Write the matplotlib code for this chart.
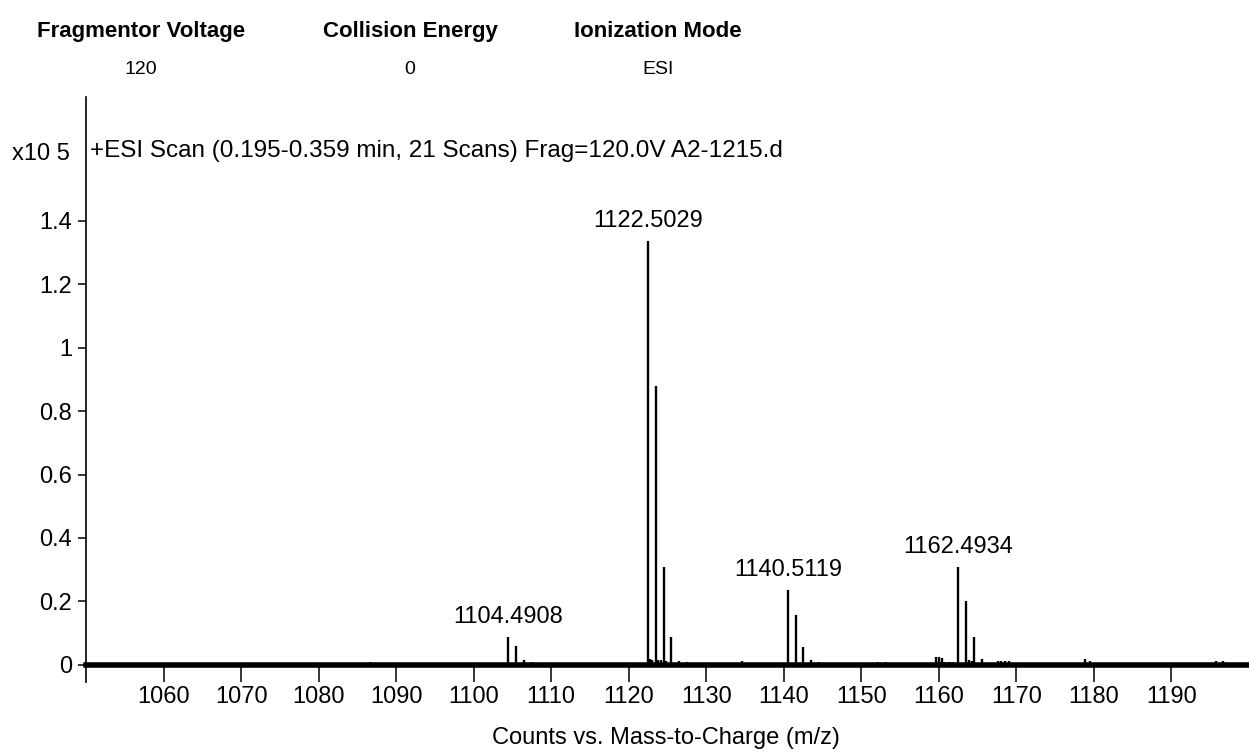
import numpy as np
import matplotlib.pyplot as plt

# spectrum sticks, intensity in units of 10^5 counts
mz = [1086.6,
      1104.4908, 1105.49, 1106.49, 1107.49,
      1122.5029, 1122.75, 1123.05, 1123.50, 1123.80, 1124.10, 1124.50, 1124.80,
      1125.50, 1126.50, 1127.50,
      1134.55,
      1140.5119, 1141.51, 1142.51, 1143.52, 1144.50,
      1152.1, 1153.2,
      1159.67, 1160.0, 1160.35, 1160.7, 1161.2, 1161.5, 1161.8,
      1162.4934, 1163.49, 1163.9, 1164.3, 1164.50, 1165.5,
      1167.6, 1168.0, 1168.5, 1169.0,
      1178.8, 1179.5,
      1195.8, 1196.7]
counts = [0.008,
          0.087, 0.058, 0.016, 0.010,
          1.335, 0.018, 0.015, 0.878, 0.015, 0.016, 0.310, 0.012,
          0.088, 0.012, 0.010,
          0.012,
          0.237, 0.158, 0.055, 0.016, 0.010,
          0.010, 0.010,
          0.026, 0.026, 0.022, 0.010, 0.010, 0.010, 0.008,
          0.310, 0.200, 0.016, 0.012, 0.087, 0.018,
          0.012, 0.012, 0.012, 0.012,
          0.018, 0.012,
          0.012, 0.012]
labelled = [1104.4908, 1122.5029, 1140.5119, 1162.4934]

xticks = list(range(1060, 1200, 10))
yticks = [0, 0.2, 0.4, 0.6, 0.8, 1.0, 1.2, 1.4]
ylabels = ['0', '0.2', '0.4', '0.6', '0.8', '1', '1.2', '1.4']

headers = ['Fragmentor Voltage', 'Collision Energy', 'Ionization Mode']
header_vals = ['120', '0', 'ESI']
title = '+ESI Scan (0.195-0.359 min, 21 Scans) Frag=120.0V A2-1215.d'

plt.rcParams['font.family'] = ['Liberation Sans', 'DejaVu Sans']
fs = 17

W, H = 1249, 754
fig = plt.figure(figsize=(W / 100, H / 100), dpi=100)
ax = fig.add_axes([86 / W, 1 - 682 / H, 1 - 86 / W, (682 - 97) / H])

ax.vlines(mz, 0, counts, color='black', lw=1.7)
for m in labelled:
    h = counts[mz.index(m)]
    ax.annotate('%.4f' % m, xy=(m, h), xytext=(0, 10), textcoords='offset points',
                ha='center', va='baseline', fontsize=fs)

ax.set_xlim(1050, 1200)
ax.set_ylim(-0.054, 1.79)
ax.spines['top'].set_visible(False)
ax.spines['right'].set_visible(False)
ax.spines['bottom'].set_position(('data', 0))
ax.spines['bottom'].set_linewidth(4)
ax.spines['left'].set_linewidth(1.2)

ax.set_xticks(xticks)
ax.set_xticklabels([str(t) for t in xticks], fontsize=fs)
ax.set_yticks(yticks)
ax.set_yticklabels(ylabels, fontsize=fs)
ax.tick_params(axis='x', direction='out', length=12, width=1.1, pad=3)
ax.tick_params(axis='y', direction='out', length=6, width=1.1, pad=4)

fig.text(666 / W, 1 - 744 / H, 'Counts vs. Mass-to-Charge (m/z)', ha='center',
         va='baseline', fontsize=fs)

for cx, head, val in zip([141, 410, 658], headers, header_vals):
    fig.text(cx / W, 1 - 37 / H, head, ha='center', va='baseline', fontsize=16,
             fontweight='bold')
    fig.text(cx / W, 1 - 74 / H, val, ha='center', va='baseline', fontsize=14)

fig.text(90 / W, 1 - 157 / H, title, ha='left', va='baseline', fontsize=17.5)
fig.text(12 / W, 1 - 160 / H, 'x10 5', ha='left', va='baseline', fontsize=fs)

fig.savefig('out.png', dpi=100)
